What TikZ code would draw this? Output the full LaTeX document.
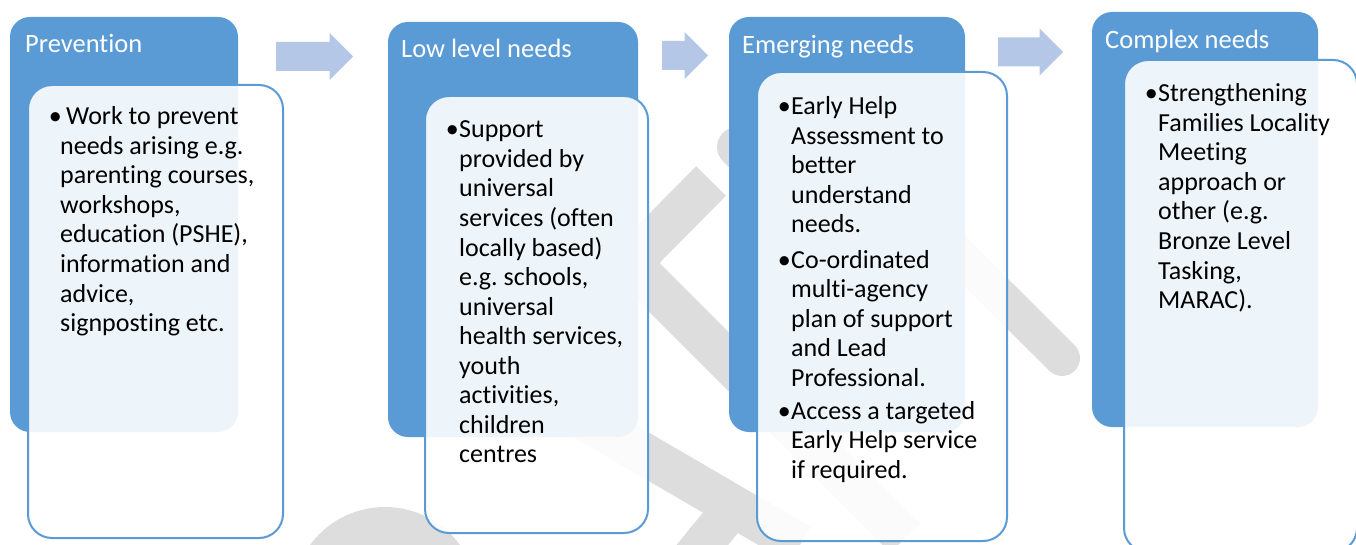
\documentclass[tikz,border=0pt]{standalone}
\usepackage{fontspec}
\setmainfont{Carlito}[Ligatures=NoCommon]
\definecolor{stageblue}{HTML}{5B9BD5}
\definecolor{flowarrow}{HTML}{B4C7E7}
\definecolor{wmgrey}{HTML}{DDDDDD}
\tikzset{
  headbox/.style={fill=stageblue, rounded corners=20pt},
  bodybox/.style={draw=stageblue, line width=2pt, fill=white, fill opacity=0.9, rounded corners=24pt},
  headtext/.style={anchor=base west, inner sep=0pt, text=white, font=\fontsize{26.5}{30}\selectfont},
  bodytext/.style={anchor=base west, inner sep=0pt, font=\fontsize{26}{29.5}\selectfont},
  bullet/.style={anchor=base east, inner sep=0pt, font=\fontsize{26}{29.5}\selectfont},
  wmstroke/.style={draw=wmgrey}
}
% #1 x, #2 first baseline, #3 name prefix, #4 lines
\newcommand\stagelines[4]{%
  \foreach \t [count=\i from 0] in {#4}
    \node[bodytext] (#3\i) at ({#1},{#2+\i*29.5}) {\t};%
}
% block arrow: #1 tail x, #2 tip x, #3 centre y
\newcommand\flowarrow[3]{%
  \fill[flowarrow] (#1,{#3-14.5}) -- ({#2-23.5},{#3-14.5}) -- ({#2-23.5},{#3-23.5})
    -- (#2,#3) -- ({#2-23.5},{#3+23.5}) -- ({#2-23.5},{#3+14.5}) -- (#1,{#3+14.5}) -- cycle;%
}
\begin{document}
\frenchspacing
\begin{tikzpicture}[x=1pt, y=-1pt]
\useasboundingbox (0,0) rectangle (1356,545);
\clip (0,0) rectangle (1356,545);

% background watermark strokes
\fill[wmgrey] (385,600) circle (93);
\draw[wmstroke, line width=42pt, line join=miter] (711,181) -- (630,263) -- (905,538);
\draw[wmstroke, line width=40pt, line cap=round] (737,147) -- (900,310);
\draw[wmstroke, line width=36pt, line cap=round] (780,77) -- (1062,358);
\draw[wmstroke, line width=42pt] (560,405) -- (800,545);
\draw[wmstroke, line width=40pt] (735,505) -- (690,560);

% flow arrows between the stages
\flowarrow{276}{353}{56.5}
\flowarrow{662}{708}{55.5}
\flowarrow{998}{1063}{52}

% Prevention
\fill[headbox] (10,17) rectangle (238,432);
\filldraw[bodybox] (28,85) rectangle (283,538);
\node[headtext] (pvh) at (25,52.5) {Prevention};
\node[bullet] (pvb) at (62,125) {•};
\node[bodytext] (pvf) at (66,125) {Work to prevent};
\stagelines{60}{154.5}{pv}{{needs arising e.g.},{parenting courses,},{workshops,},{education (PSHE),},{information and},{advice,},{signposting etc.}}

% Low level needs
\fill[headbox] (388,22) rectangle (638,437);
\filldraw[bodybox] (425,96) rectangle (648,533);
\node[headtext] (lvh) at (401,57.5) {Low level needs};
\node[bullet] (lvb) at (459,138) {•};
\stagelines{459}{138}{lv}{{Support},{provided by},{universal},{services (often},{locally based)},{e.g. schools,},{universal},{health services,},{youth},{activities,},{children},{centres}}

% Emerging needs
\fill[headbox] (729,17) rectangle (965,432);
\filldraw[bodybox] (757,72) rectangle (1007,541);
\node[headtext] (emh) at (742,53.5) {Emerging needs};
\node[bullet] (emb1) at (791,115) {•};
\node[bullet] (emb2) at (791,268) {•};
\node[bullet] (emb3) at (791,419) {•};
\stagelines{791}{115}{ema}{{Early Help},{Assessment to},{better},{understand},{needs.}}
\stagelines{791}{268}{emb}{{Co-ordinated},{multi-agency},{plan of support},{and Lead},{Professional.}}
\stagelines{791}{419}{emc}{{Access a targeted},{Early Help service},{if required.}}

% Complex needs
\fill[headbox] (1092,12) rectangle (1318,427);
\filldraw[bodybox] (1124,60) rectangle (1357,552);
\node[headtext] (cxh) at (1105,48.5) {Complex needs};
\node[bullet] (cxb) at (1158,102) {•};
\stagelines{1158}{102}{cx}{{Strengthening},{Families Locality},{Meeting},{approach or},{other (e.g.},{Bronze Level},{Tasking,},{MARAC).}}
\end{tikzpicture}
\end{document}
